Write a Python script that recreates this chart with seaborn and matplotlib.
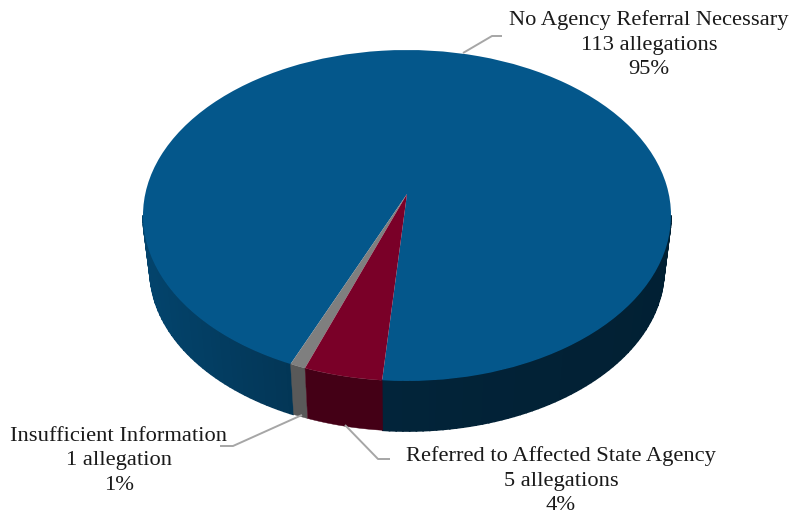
import numpy as np
import matplotlib
matplotlib.use("Agg")
import matplotlib.pyplot as plt
import seaborn as sns

categories = ["No Agency Referral Necessary", "Insufficient Information", "Referred to Affected State Agency"]
allegations = [113, 1, 5]
count_labels = ["113 allegations", "1 allegation", "5 allegations"]
percent_labels = ["95%", "1%", "4%"]
colors = ["#04578B", "#7F7F7F", "#7A0028"]

W, H = 795, 514
sns.set_theme(style="white")
plt.rcParams["font.family"] = ["Liberation Serif", "DejaVu Serif"]

fig = plt.figure(figsize=(W / 100, H / 100), dpi=100, facecolor="white")

# top-face ellipse in pixels
CX, CY, RX, RY = 407.0, 215.5, 264.0, 165.5
APEX_Y = 194.0
ax = fig.add_axes([(CX - RX) / W, (H - CY - RY) / H, 2 * RX / W, 2 * RY / H])

M = 1.15           # perspective stretch of the front of the disc
START = 265.3      # where the first slice begins


def warp(theta):
    phi = np.radians(theta - 270.0)
    return 270.0 + np.degrees(2 * np.arctan2(M * np.sin(phi / 2), np.cos(phi / 2)))


wedges, _ = ax.pie(allegations, colors=colors, startangle=START, counterclock=True,
                   wedgeprops=dict(linewidth=0))
ax.set_aspect("auto")
ax.set_xlim(-1, 1)
ax.set_ylim(-1, 1)
ax.axis("off")

# lower rim of the side wall, in axes units
LOW_RX = 257.0 / RX
LOW_CY = -(270.0 - CY) / RY
LOW_RY = 161.0 / RY


def blue_shade(x):
    return np.interp(x, [-1, -0.44, -0.1, 0.2, 1], [0.78, 0.62, 0.42, 0.40, 0.37])


def wall(a_deg, b_deg, n, rgb, lw):
    t = np.radians(np.linspace(a_deg, b_deg, n))
    xs = np.concatenate([np.cos(t), LOW_RX * np.cos(t[::-1])])
    ys = np.concatenate([np.sin(t), LOW_CY + LOW_RY * np.sin(t[::-1])])
    ax.fill(xs, ys, color=rgb, linewidth=lw, zorder=1, clip_on=False)


for i, (w, col) in enumerate(zip(wedges, colors)):
    t1, t2 = warp(w.theta1), warp(w.theta2)
    w.set_theta1(t1)
    w.set_theta2(t2)
    w.set_clip_on(False)
    path = w.get_path()
    v = path.vertices.copy()
    apex = np.hypot(v[:, 0], v[:, 1]) < 1e-6
    v[apex, 1] += (CY - APEX_Y) / RY
    path.vertices = v
    w.set_zorder(3)

    base = np.array(matplotlib.colors.to_rgb(col))
    if i == 0:
        # the big slice wraps round the back: its wall has two visible runs
        runs = [(t1, 360.0), (540.0, t2)]
        for lo, hi in runs:
            edges = np.arange(lo, hi + 1.5, 1.5)
            edges = np.clip(edges, lo, hi)
            for a, b in zip(edges[:-1], edges[1:]):
                if b > a:
                    f = blue_shade(np.cos(np.radians((a + b) / 2)))
                    wall(a, b, 3, base * f, 1.2)
    elif i == 1:
        wall(t1, t2, 12, base * 0.70, 0.3)
    else:
        wall(t1, t2, 24, base * 0.56, 0.3)

# overlay in pixel coordinates for labels and leader lines
ov = fig.add_axes([0, 0, 1, 1], zorder=5)
ov.set_xlim(0, W)
ov.set_ylim(H, 0)
ov.axis("off")
ov.patch.set_alpha(0)

leaders = [([463, 492, 502], [53, 36, 36]),
           ([302, 233, 220], [415, 446, 446]),
           ([345, 378, 390], [425, 459, 459])]
for xs, ys in leaders:
    ov.plot(xs, ys, color="#A6A6A6", lw=1.4, solid_capstyle="butt", zorder=1)

label_pos = [(649, 45), (119, 461), (561, 481)]
for (x, y), c, n, p in zip(label_pos, categories, count_labels, percent_labels):
    ov.text(x, y, f"{c}\n{n}\n{p}", ha="center", va="center", fontsize=16.2,
            linespacing=1.39, color="#1A1A1A")

fig.savefig("out.png", dpi=100, facecolor="white")
